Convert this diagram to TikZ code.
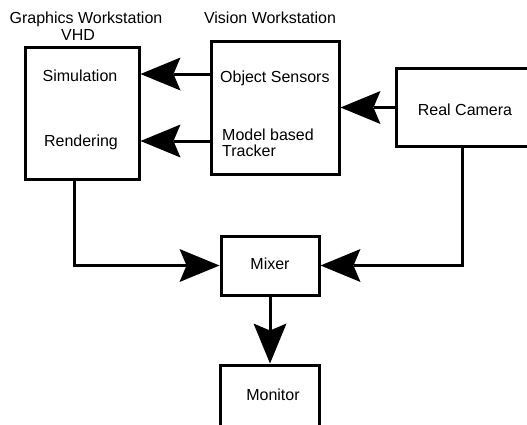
\documentclass[tikz,border=0pt]{standalone}
\usepackage{fontspec}
\setmainfont{Liberation Sans}
\usetikzlibrary{positioning,arrows.meta}

\tikzset{
blk/.style={draw, line width=3pt, inner sep=0pt},
lbl/.style={inner sep=0pt, font=\fontsize{16}{17}\selectfont, text height=11.5pt, text depth=3.5pt},
arr/.style={line width=3pt, -{Stealth[length=40pt, width=33pt, inset=7pt, line width=0pt]}},
}

\begin{document}
\begin{tikzpicture}[x=1pt, y=-1pt]
\useasboundingbox (0,0) rectangle (527,424);
\node[blk, minimum width=114pt, minimum height=132pt](gfx) at (82,113){};
\node[blk, minimum width=128pt, minimum height=133pt, right=69pt of gfx, yshift=5.5pt](vis){};
\node[blk, minimum width=138pt, minimum height=78pt, right=54pt of vis](cam){};
\node[blk, lbl, minimum width=98pt, minimum height=59pt, below=59pt of vis, xshift=-5pt](mix){Mixer};
\node[blk, lbl, text depth=15.5pt, minimum width=99pt, minimum height=74pt, below=67pt of mix](mon){\hspace{6pt}Monitor};
\node[lbl](gfxname) at (86,19.5){Graphics Workstation};
\node[lbl](gfxvhd) at (78,36.5){VHD};
\node[lbl](visname) at (270,19.5){Vision Workstation};
\node[lbl](sim) at (80,77){Simulation};
\node[lbl](ren) at (81,142){Rendering};
\node[lbl, anchor=west](obj) at (220,78){Object Sensors};
\node[inner sep=0pt, font=\fontsize{16}{16.5}\selectfont, align=left, anchor=north west](trk) at (222,128.4){Model based\\Tracker};
\node[lbl](camtxt) at (465,111){Real Camera};
\draw[arr] ([yshift=3pt]vis.west |- sim) -- ([yshift=3pt]gfx.east |- sim);
\draw[arr] ([yshift=1pt]vis.west |- ren) -- ([yshift=1pt]gfx.east |- ren);
\draw[arr] (cam.west) -- (vis.east |- cam.west);
\draw[arr] ([xshift=-8pt]gfx.south) |- (mix.west);
\draw[arr] ([xshift=-3pt]cam.south) |- (mix.east);
\draw[arr] (mix.south) -- (mon.north);
\end{tikzpicture}
\end{document}
